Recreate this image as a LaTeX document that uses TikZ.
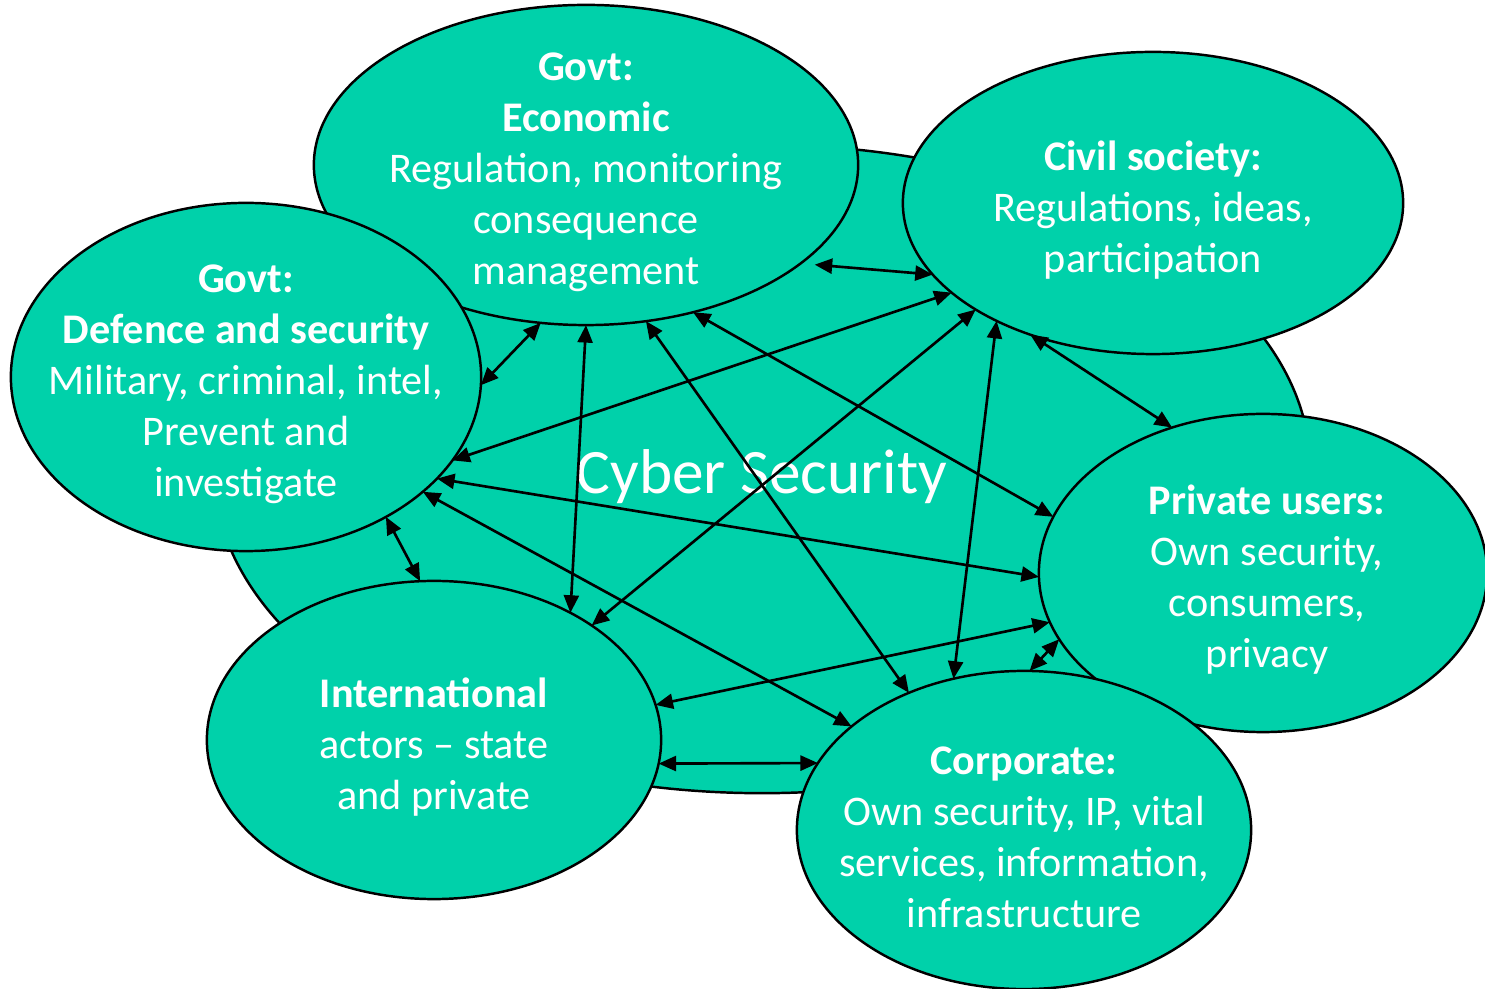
\documentclass[tikz,border=0pt]{standalone}
\usepackage{fontspec}
\setmainfont{Carlito}
\usetikzlibrary{shapes.geometric,arrows.meta}
\definecolor{teal}{RGB}{0,209,170}
\tikzset{
  blob/.style={ellipse, draw=black, line width=0.7pt, fill=teal, inner sep=0pt, outer sep=0pt},
  lbl/.style={text=white, align=center, font=\fontsize{12pt}{14.5pt}\selectfont, inner sep=0pt},
  link/.style={line width=0.75pt, {Triangle[length=1.75mm,width=1.5mm]}-{Triangle[length=1.75mm,width=1.5mm]}}
}
\begin{document}
\begin{tikzpicture}[x=0.01cm,y=-0.01cm]
\useasboundingbox (0,0) rectangle (1485,989);
% background
\node[blob, minimum width=10.96cm, minimum height=6.48cm] (cyber) at (762,469) {};
% ellipses
\node[blob, minimum width=5.44cm, minimum height=3.2cm] (eco) at (586,165) {};
\node[blob, minimum width=5.0cm, minimum height=3.02cm] (civ) at (1153,203) {};
\node[blob, minimum width=4.7cm, minimum height=3.48cm] (def) at (246,377) {};
\node[blob, minimum width=4.48cm, minimum height=3.18cm] (pri) at (1263,573) {};
\node[blob, minimum width=4.54cm, minimum height=3.18cm] (int) at (434,740) {};
\node[blob, minimum width=4.54cm, minimum height=3.18cm] (cor) at (1024,830) {};
% texts
\node[lbl, font=\fontsize{18pt}{20pt}\selectfont] (cybertxt) at (762,477) {Cyber Security};
\node[lbl] (ecotxt) at (586,172) {\textbf{Govt:}\\\textbf{Economic}\\Regulation, monitoring\\consequence\\management};
\node[lbl] (civtxt) at (1153,210) {\textbf{Civil society:}\\Regulations, ideas,\\participation};
\node[lbl] (deftxt) at (246,384) {\textbf{Govt:}\\\textbf{Defence and security}\\Military, criminal, intel,\\Prevent and\\investigate};
\node[lbl] (pritxt) at (1267,580) {\textbf{Private users:}\\Own security,\\consumers,\\privacy};
\node[lbl] (inttxt) at (434,747) {\textbf{International}\\actors -- state\\and private};
\node[lbl] (cortxt) at (1024,837) {\textbf{Corporate:}\\Own security, IP, vital\\services, information,\\infrastructure};
% connectors
\draw[link] (def.358.5) -- (eco.254);
\draw[link] (eco.270) -- (int.43.3);
\draw[link] (eco.291.7) -- (cor.130);
\draw[link] (eco.306.7) -- (pri.165.8);
\draw[link] ([shift={(8,6)}]eco.337) -- (civ.198.7);
\draw[link] (civ.204.3) -- (def.338.1);
\draw[link] (civ.211.9) -- (int.36.7);
\draw[link] (civ.217.2) -- (cor.115.4);
\draw[link] (civ.227.8) -- (pri.122.2);
\draw[link] (def.332.5) -- (pri.181.3);
\draw[link] (def.327.7) -- (cor.149.6);
\draw[link] (def.315) -- (int.95.6);
\draw[link] (int.9.4) -- (pri.193.7);
\draw[link] (int.354.3) -- (cor.162.5);
\draw[link] (cor.88.6) -- (pri.198.8);
\end{tikzpicture}
\end{document}
